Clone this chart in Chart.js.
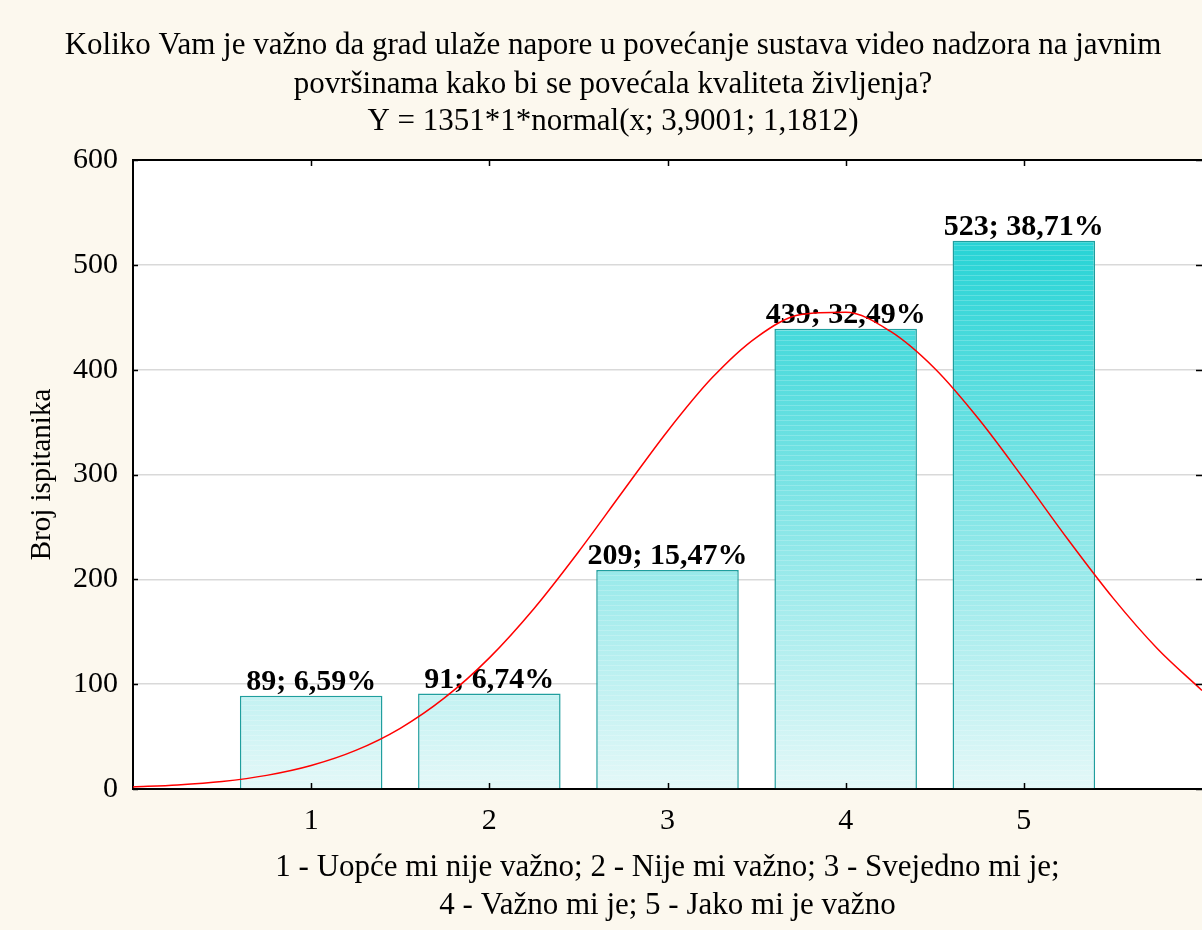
<!DOCTYPE html>
<html>
<head>
<meta charset="utf-8">
<script src="https://cdn.jsdelivr.net/npm/chart.js@4.4.0/dist/chart.umd.min.js"></script>
<style>
  html, body { margin: 0; padding: 0; background: #fcf8ee; }
  #wrap { width: 1202px; height: 930px; }
</style>
</head>
<body>
<div id="wrap"><canvas id="chart" width="1202" height="930"></canvas></div>
<script>
const titleLines = [
    'Koliko Vam je važno da grad ulaže napore u povećanje sustava video nadzora na javnim',
    'površinama kako bi se povećala kvaliteta življenja?',
    'Y = 1351*1*normal(x; 3,9001; 1,1812)'
];
const xTitleLines = [
    '1 - Uopće mi nije važno; 2 - Nije mi važno; 3 - Svejedno mi je;',
    '4 - Važno mi je; 5 - Jako mi je važno'
];
const yTitle = 'Broj ispitanika';

const categories = [1, 2, 3, 4, 5];
const counts = [89, 91, 209, 439, 523];
const percents = ['6,59%', '6,74%', '15,47%', '32,49%', '38,71%'];

// fitted normal curve
const curveX = [0, 0.25, 0.5, 0.75, 1, 1.25, 1.5, 1.75, 2, 2.25, 2.5, 2.75, 3,
    3.25, 3.5, 3.75, 4, 4.25, 4.5, 4.75, 5, 5.25, 5.5, 5.75, 6];
const curveY = [2, 3.9, 7.2, 13, 22.4, 36.8, 57.9, 87.1, 125.1, 172, 226.1, 284, 341.3,
    392.2, 430.9, 452.6, 454.7, 436.7, 401.1, 352.2, 295.8, 237.5, 182.3, 133.8, 94];

const yTicks = [0, 100, 200, 300, 400, 500, 600];

const SERIF = '"Liberation Serif", "Times New Roman", serif';
Chart.defaults.font.family = SERIF;
Chart.defaults.color = '#000';

let barPattern = null;
let patternKey = '';

function getBarFill(chart) {
    const area = chart.chartArea;
    if (!area) return '#7fe3e3';
    const key = area.top + '-' + area.bottom;
    if (barPattern && patternKey === key) return barPattern;
    const off = document.createElement('canvas');
    off.width = 8;
    off.height = chart.height;
    const octx = off.getContext('2d');
    const grad = octx.createLinearGradient(0, area.top, 0, area.bottom);
    grad.addColorStop(0, 'rgb(10, 206, 208)');
    grad.addColorStop(1, 'rgb(228, 248, 248)');
    octx.fillStyle = grad;
    octx.fillRect(0, 0, off.width, off.height);
    // faint horizontal stripes
    octx.fillStyle = 'rgba(255, 255, 255, 0.2)';
    for (let yy = 0; yy < off.height; yy += 5) {
        octx.fillRect(0, yy, off.width, 1);
    }
    barPattern = chart.ctx.createPattern(off, 'repeat');
    patternKey = key;
    return barPattern;
}

const backgroundPlugin = {
    id: 'background',
    beforeDraw(chart) {
        const { ctx, chartArea: a } = chart;
        ctx.save();
        ctx.fillStyle = '#fcf8ee';
        ctx.fillRect(0, 0, chart.width, chart.height);
        ctx.fillStyle = '#ffffff';
        ctx.fillRect(a.left, a.top, a.right - a.left, a.bottom - a.top);
        // title
        ctx.fillStyle = '#000';
        ctx.font = '31px ' + SERIF;
        ctx.textAlign = 'center';
        ctx.textBaseline = 'middle';
        const ys = [46, 85, 122];
        titleLines.forEach((t, i) => ctx.fillText(t, 613, ys[i]));
        ctx.restore();
    }
};

const barLabelPlugin = {
    id: 'barLabels',
    afterDatasetDraw(chart, args) {
        if (args.index !== 0) return;
        const { ctx } = chart;
        ctx.save();
        ctx.fillStyle = '#000';
        ctx.font = 'bold 30px ' + SERIF;
        ctx.textAlign = 'center';
        ctx.textBaseline = 'alphabetic';
        args.meta.data.forEach((bar, i) => {
            ctx.fillText(counts[i] + '; ' + percents[i], bar.x, bar.y - 6);
        });
        ctx.restore();
    }
};

const frameTicksPlugin = {
    id: 'frameTicks',
    afterDraw(chart) {
        const { ctx, chartArea: a, scales: { x, y } } = chart;
        ctx.save();
        ctx.strokeStyle = '#000';
        ctx.lineWidth = 2;
        // top edge (right edge falls outside the picture)
        ctx.beginPath();
        ctx.moveTo(a.left, a.top);
        ctx.lineTo(chart.width, a.top);
        ctx.stroke();
        ctx.lineWidth = 1.5;
        ctx.beginPath();
        categories.forEach(c => {
            const px = Math.round(x.getPixelForValue(c)) + 0.5;
            ctx.moveTo(px, a.bottom);
            ctx.lineTo(px, a.bottom - 6);
            ctx.moveTo(px, a.top);
            ctx.lineTo(px, a.top + 6);
        });
        yTicks.forEach(v => {
            const py = Math.round(y.getPixelForValue(v)) + 0.5;
            ctx.moveTo(a.left, py);
            ctx.lineTo(a.left + 5, py);
            ctx.moveTo(chart.width, py);
            ctx.lineTo(chart.width - 6, py);
        });
        ctx.stroke();
        ctx.restore();
    }
};

new Chart(document.getElementById('chart'), {
    data: {
        datasets: [
            {
                type: 'bar',
                label: 'Broj ispitanika',
                data: categories.map((c, i) => ({ x: c, y: counts[i] })),
                backgroundColor: ctx => getBarFill(ctx.chart),
                borderColor: '#1f9e9e',
                borderWidth: 1.5,
                barPercentage: 0.8,
                categoryPercentage: 1,
                order: 2
            },
            {
                type: 'line',
                label: 'normal',
                data: curveX.map((v, i) => ({ x: v, y: curveY[i] })),
                borderColor: '#ff0000',
                borderWidth: 1.5,
                pointRadius: 0,
                cubicInterpolationMode: 'monotone',
                fill: false,
                order: 1
            }
        ]
    },
    options: {
        responsive: false,
        animation: false,
        layout: { padding: { top: 160, right: 0, left: 0, bottom: 0 } },
        scales: {
            x: {
                type: 'linear',
                min: 0,
                max: 6,
                offset: false,
                grid: { display: false, drawTicks: false },
                border: { display: true, color: '#000', width: 2 },
                ticks: {
                    stepSize: 1,
                    padding: 14,
                    font: { size: 30 },
                    callback: v => (v >= 1 && v <= 5 ? v : '')
                },
                title: {
                    display: true,
                    text: xTitleLines,
                    font: { size: 31, lineHeight: 1.226 },
                    padding: { top: 0, bottom: 5 }
                },
                afterFit: scale => {
                    scale.height = 141;
                    scale.paddingLeft = 0;
                    scale.paddingRight = 0;
                }
            },
            y: {
                min: 0,
                max: 600,
                grid: {
                    drawTicks: false,
                    color: ctx => (ctx.tick && (ctx.tick.value === 0 || ctx.tick.value === 600) ? 'rgba(0,0,0,0)' : '#d9d9d9'),
                    lineWidth: 1.5
                },
                border: { display: true, color: '#000', width: 2 },
                ticks: {
                    stepSize: 100,
                    padding: 15,
                    font: { size: 30 }
                },
                title: {
                    display: true,
                    text: yTitle,
                    font: { size: 29, lineHeight: 1.2 },
                    padding: { top: 25, bottom: 0 }
                },
                afterFit: scale => {
                    scale.width = 133;
                    scale.paddingTop = 0;
                    scale.paddingBottom = 0;
                }
            }
        },
        plugins: {
            legend: { display: false },
            tooltip: { enabled: false }
        }
    },
    plugins: [backgroundPlugin, barLabelPlugin, frameTicksPlugin]
});
</script>
</body>
</html>
